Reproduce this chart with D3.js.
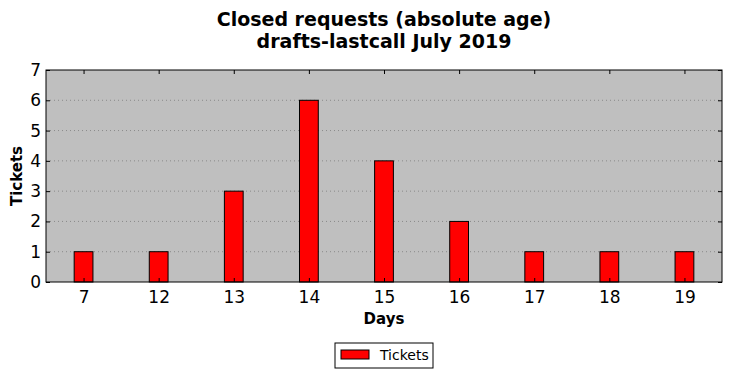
<!DOCTYPE html>
<html>
<head>
<meta charset="utf-8">
<script src="https://cdn.jsdelivr.net/npm/d3@7"></script>
<style>
body{margin:0;background:#fff;}
text{font-family:"DejaVu Sans",sans-serif;}
</style>
</head>
<body>
<script>
var svg_width=732;
var svg_height=378;

var categories=["7","12","13","14","15","16","17","18","19"];
var tickets=[1,1,3,6,4,2,1,1,1];
var y_ticks=[0,1,2,3,4,5,6,7];

var margin={left:46,right:10,top:70,bottom:96};
var width=svg_width-margin.left-margin.right;
var height=svg_height-margin.top-margin.bottom;

var svg=d3.select("body")
        .append("svg")
        .attr("width",svg_width)
        .attr("height",svg_height);

var g=svg.append("g")
    .attr("transform","translate("+margin.left+","+margin.top+")");

var x=d3.scaleLinear()
    .domain([-0.5,categories.length-0.5])
    .range([0,width]);
var y=d3.scaleLinear()
    .domain([0,7])
    .range([height,0]);

g.append("rect")
    .attr("width",width)
    .attr("height",height)
    .attr("fill","#bfbfbf");

// grid
g.selectAll(".grid")
    .data(y_ticks.slice(1,-1))
    .enter()
    .append("line")
    .attr("x1",0).attr("x2",width)
    .attr("y1",function(d){return y(d);})
    .attr("y2",function(d){return y(d);})
    .attr("stroke","#8a8a8a")
    .attr("stroke-width",1)
    .attr("stroke-dasharray","1,3");

var bar_w=0.25;
g.selectAll(".bar")
    .data(tickets)
    .enter()
    .append("rect")
    .attr("x",function(d,i){return x(i-bar_w/2);})
    .attr("y",function(d){return y(d);})
    .attr("width",x(bar_w)-x(0))
    .attr("height",function(d){return y(0)-y(d);})
    .attr("fill","#ff0000")
    .attr("stroke","#000")
    .attr("stroke-width",1);

// axes with inward ticks
var xAxis=d3.axisBottom(x)
    .tickValues(d3.range(categories.length))
    .tickFormat(function(d){return categories[d];})
    .tickSizeInner(-4).tickSizeOuter(0).tickPadding(9);
var gx=g.append("g")
    .attr("transform","translate(0,"+height+")")
    .call(xAxis);
gx.select(".domain").remove();
gx.selectAll("text").style("font-size","17px").attr("fill","#000");

g.append("g")
    .call(d3.axisTop(x).tickValues(d3.range(categories.length)).tickFormat("").tickSizeInner(-4).tickSizeOuter(0))
    .select(".domain").remove();

var yAxis=d3.axisLeft(y)
    .tickValues(y_ticks)
    .tickFormat(d3.format("d"))
    .tickSizeInner(-4).tickSizeOuter(0).tickPadding(5);
var gy=g.append("g").call(yAxis);
gy.select(".domain").remove();
gy.selectAll("text").style("font-size","17px").attr("fill","#000");

g.append("g")
    .attr("transform","translate("+width+",0)")
    .call(d3.axisRight(y).tickValues(y_ticks).tickFormat("").tickSizeInner(-4).tickSizeOuter(0))
    .select(".domain").remove();

g.append("rect")
    .attr("width",width)
    .attr("height",height)
    .attr("fill","none")
    .attr("stroke","#000")
    .attr("stroke-width",1);

// labels
svg.append("text")
    .attr("x",margin.left+width/2).attr("y",26)
    .attr("text-anchor","middle")
    .style("font-size","19px").style("font-weight","bold")
    .text("Closed requests (absolute age)");
svg.append("text")
    .attr("x",margin.left+width/2).attr("y",48)
    .attr("text-anchor","middle")
    .style("font-size","19px").style("font-weight","bold")
    .text("drafts-lastcall July 2019");

svg.append("text")
    .attr("x",margin.left+width/2).attr("y",324)
    .attr("text-anchor","middle")
    .style("font-size","15px").style("font-weight","bold")
    .text("Days");

svg.append("text")
    .attr("transform","translate(22,"+(margin.top+height/2)+") rotate(-90)")
    .attr("text-anchor","middle")
    .style("font-size","15px").style("font-weight","bold")
    .text("Tickets");

// legend
var lg=svg.append("g").attr("transform","translate(335,343)");
lg.append("rect").attr("width",98).attr("height",25)
    .attr("fill","#fff").attr("stroke","#000").attr("stroke-width",1);
lg.append("rect").attr("x",6).attr("y",7).attr("width",28).attr("height",9)
    .attr("fill","#ff0000").attr("stroke","#000").attr("stroke-width",1);
lg.append("text").attr("x",45).attr("y",17)
    .style("font-size","14px").text("Tickets");
</script>
</body>
</html>
